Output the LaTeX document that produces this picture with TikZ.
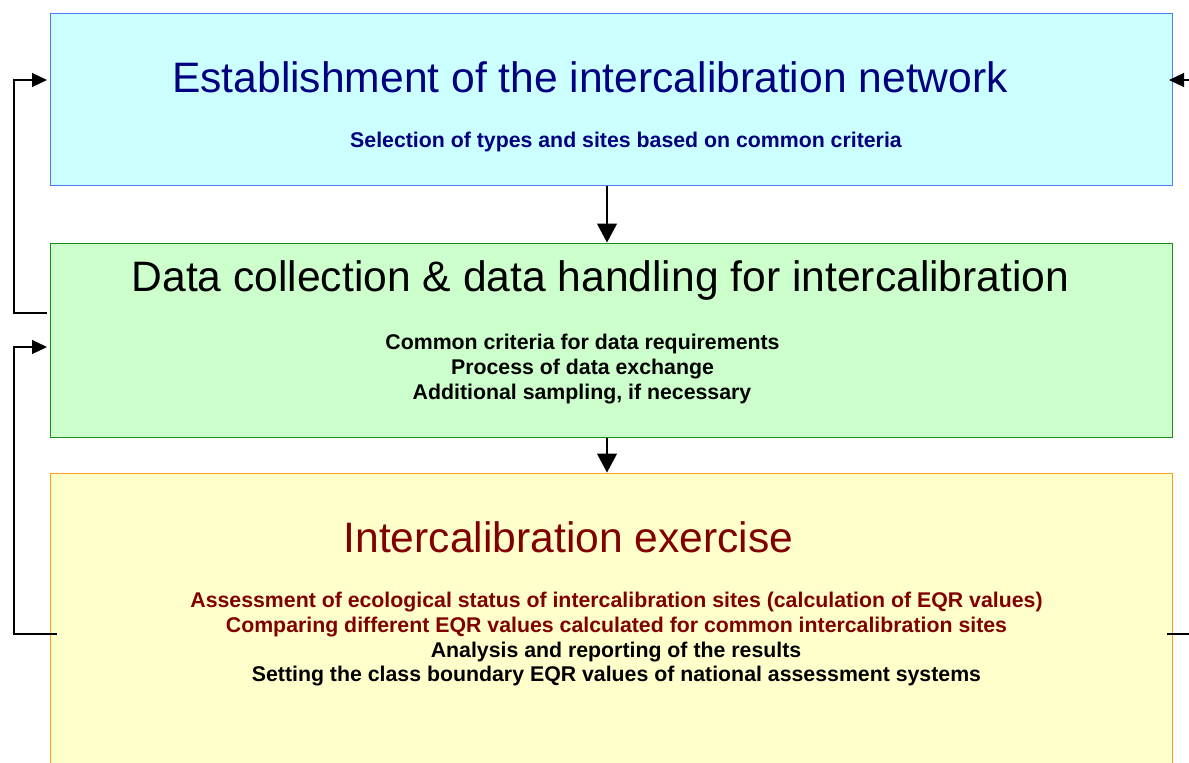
\documentclass[tikz,border=0pt]{standalone}
\usepackage{fontspec}
\setmainfont{Liberation Sans}
\usetikzlibrary{arrows.meta}
\definecolor{cyanfill}{HTML}{CCFFFF}
\definecolor{cyanline}{HTML}{4D7CFF}
\definecolor{greenfill}{HTML}{CCFFCC}
\definecolor{greenline}{HTML}{1A8C1A}
\definecolor{yellowfill}{HTML}{FFFFCC}
\definecolor{yellowline}{HTML}{FF9E1A}
\definecolor{navytext}{HTML}{000080}
\definecolor{redtext}{HTML}{800000}
\begin{document}
\begin{tikzpicture}[x=1pt,y=-1pt,
  box/.style={rectangle, inner sep=0pt, line width=1pt, minimum width=1122pt},
  titletext/.style={anchor=base, inner sep=0pt, font=\fontsize{42.6}{50}\selectfont},
  subtext/.style={anchor=base, inner sep=0pt, font=\bfseries\fontsize{21.3}{25}\selectfont},
  downarr/.style={line width=1.2pt, -{Triangle[length=19pt,width=20pt]}},
  sidearr/.style={line width=1.2pt, -{Triangle[length=15pt,width=14pt]}},
  plainline/.style={line width=1.2pt}]
\useasboundingbox (0,0) rectangle (1189,763);
\clip (0,0) rectangle (1189,763);
% boxes
\node[box, fill=cyanfill, draw=cyanline, minimum height=172pt] (box1) at (611,99) {};
\node[box, fill=greenfill, draw=greenline, minimum height=194pt] (box2) at (611,340) {};
\node[box, fill=yellowfill, draw=yellowline, minimum height=337pt] (box3) at (611,641.5) {};
% texts box 1
\node[titletext, text=navytext] (t1) at (590,92) {Establishment of the intercalibration network};
\node[subtext, text=navytext] (s1) at (626,147.5) {Selection of types and sites based on common criteria};
% texts box 2
\node[titletext] (t2) at (600.5,291) {Data collection \& data handling for intercalibration};
\node[subtext] (s2a) at (582.5,349.5) {Common criteria for data requirements};
\node[subtext] (s2b) at (582.5,374.5) {Process of data exchange};
\node[subtext] (s2c) at (582,399.5) {Additional sampling, if necessary};
% texts box 3
\node[titletext, text=redtext] (t3) at (568.5,552.5) {Intercalibration exercise};
\node[subtext, text=redtext] (s3a) at (616.5,607.5) {Assessment of ecological status of intercalibration sites (calculation of EQR values)};
\node[subtext, text=redtext] (s3b) at (616.5,632.3) {Comparing different EQR values calculated for common intercalibration sites};
\node[subtext] (s3c) at (616,657) {Analysis and reporting of the results};
\node[subtext] (s3d) at (616.5,681.8) {Setting the class boundary EQR values of national assessment systems};
% connectors
\coordinate (ax) at (607,0);
\draw[downarr] (box1.south -| ax) -- (box2.north -| ax);
\draw[downarr] (box2.south -| ax) -- (box3.north -| ax);
\coordinate (l1s) at (47,313);
\coordinate (l1t) at (47,80);
\draw[sidearr] (l1s) -- (14,313) |- (l1t);
\coordinate (l2s) at (57,634);
\coordinate (l2t) at (47,347);
\draw[sidearr] (l2s) -- (14,634) |- (l2t);
\coordinate (r1s) at (1200,80);
\coordinate (r1t) at (1169,80);
\draw[sidearr] (r1s) -- (r1t);
\coordinate (r2s) at (1167,634);
\coordinate (r2t) at (1200,634);
\draw[plainline] (r2s) -- (r2t);
\end{tikzpicture}
\end{document}
